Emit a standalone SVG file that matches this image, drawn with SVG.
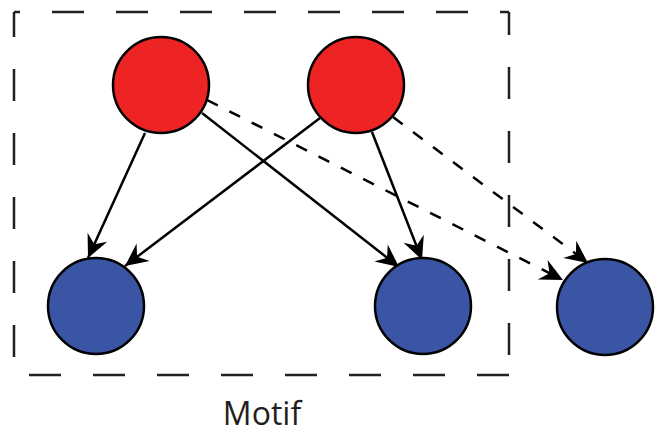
<svg xmlns="http://www.w3.org/2000/svg" width="657" height="433" viewBox="0 0 657 433">
<style>
.box{stroke:#231f20;stroke-width:2.5;fill:none;stroke-dasharray:32 32}
.edge{stroke:#000;stroke-width:2.5;fill:none}
.dashed{stroke-dasharray:12 13}
.red{fill:#ee2424;stroke:#000;stroke-width:2.5}
.blue{fill:#3a55a4;stroke:#000;stroke-width:2.5}
.label{font-family:"Open Sans","Noto Sans",sans-serif;font-size:32px;fill:#231f20}
</style>
<defs>
<marker id="arrow" markerUnits="userSpaceOnUse" markerWidth="26" markerHeight="26" viewBox="-22 -11 24 22" refX="0" refY="0" orient="auto">
<path d="M0,0 L-21,-10 L-14,0 L-21,10 Z" fill="#000"/>
</marker>
</defs>
<g id="motif-box">
<line class="box" x1="14" y1="12" x2="14" y2="375" stroke-dashoffset="7"/>
<line class="box" x1="14" y1="12" x2="509" y2="12" stroke-dashoffset="26"/>
<line class="box" x1="509" y1="12" x2="509" y2="375" stroke-dashoffset="9"/>
<line class="box" x1="509" y1="375" x2="14" y2="375"/>
</g>
<g id="connectors">
<line class="edge" x1="145" y1="133" x2="88" y2="258" marker-end="url(#arrow)"/>
<line class="edge" x1="320" y1="118" x2="125" y2="266" marker-end="url(#arrow)"/>
<line class="edge" x1="202" y1="113" x2="399" y2="267" marker-end="url(#arrow)"/>
<line class="edge" x1="372" y1="132" x2="422" y2="260" marker-end="url(#arrow)"/>
<line class="edge dashed" x1="207" y1="100" x2="563" y2="280" marker-end="url(#arrow)"/>
<line class="edge dashed" x1="393" y1="117" x2="588" y2="263" marker-end="url(#arrow)"/>
</g>
<g id="red1"><circle class="red" cx="161" cy="85" r="48"/></g>
<g id="red2"><circle class="red" cx="356" cy="85" r="48"/></g>
<g id="blue1"><circle class="blue" cx="96" cy="306" r="48"/></g>
<g id="blue2"><circle class="blue" cx="423" cy="306" r="48"/></g>
<g id="blue3"><circle class="blue" cx="605" cy="307" r="48"/></g>
<g id="label"><text class="label" x="262" y="425" text-anchor="middle">Motif</text></g>
</svg>
